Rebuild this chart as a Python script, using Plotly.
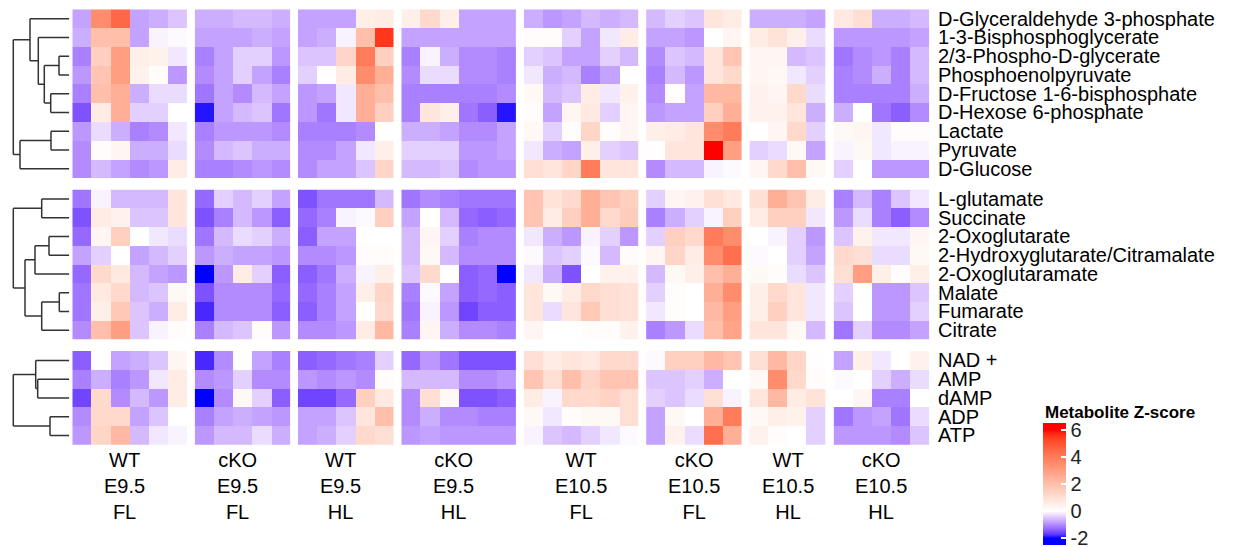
import plotly.graph_objects as go

W, H = 1260, 547

# ---------------- data ----------------
group_genotype = ["WT", "cKO", "WT", "cKO", "WT", "cKO", "WT", "cKO"]
group_stage = ["E9.5", "E9.5", "E9.5", "E9.5", "E10.5", "E10.5", "E10.5", "E10.5"]
group_limb = ["FL", "FL", "HL", "HL", "FL", "FL", "HL", "HL"]
group_ncols = [6, 5, 5, 6, 6, 5, 4, 5]

rows_glyc = ["D-Glyceraldehyde 3-phosphate", "1-3-Bisphosphoglycerate", "2/3-Phospho-D-glycerate",
             "Phosphoenolpyruvate", "D-Fructose 1-6-bisphosphate", "D-Hexose 6-phosphate",
             "Lactate", "Pyruvate", "D-Glucose"]
vals_glyc = [
    [-0.8, 3.5, 4.5, -0.8, -0.7, -0.5,  -0.7, -0.7, -0.6, -0.6, -0.7,  -0.8, -0.8, -0.8, 0.5, 0.6,  0.5, 1.2, 0.5, -0.8, -0.8, -0.8,
     -0.7, -0.9, -0.8, -0.6, -0.7, -0.6,  -0.6, -0.4, -0.5, 0.8, 0.6,  -0.7, -0.7, -0.7, -0.8,  0.7, 1.0, -0.7, -0.7, -0.6],
    [-0.7, 2.0, 2.0, -0.8, -0.1, -0.05,  -0.8, -0.8, -0.8, -0.7, -0.8,  -0.8, -0.7, -0.1, 2.0, 5.5,  -0.8, -0.8, -0.8, -0.8, -0.8, -0.8,
     0.1, 0.1, -0.4, -0.8, -0.2, 0.6,  -0.8, -0.8, -0.9, 0.0, 0.3,  0.6, 0.9, 0.5, -0.3,  -0.9, -0.9, -0.9, -0.9, -0.8],
    [-1.1, 1.5, 3.0, 0.5, 0.4, -0.2,  -1.1, -0.8, -0.4, -0.4, -0.9,  -0.5, -0.5, 1.3, 4.0, 1.5,  -1.1, -0.1, -0.7, -1.0, -1.0, -1.1,
     -0.4, -0.5, -0.8, -0.8, -0.4, -0.6,  -1.0, -0.5, -0.6, 0.8, 1.8,  0.3, 0.3, -0.6, -0.5,  -1.2, -1.0, -0.9, -1.1, -0.6],
    [-0.9, 1.8, 3.0, 0.4, 0.1, -0.9,  -1.0, -0.8, -0.4, -0.8, -1.1,  -0.4, 0.0, 0.6, 3.5, 2.5,  -1.0, -0.3, -0.3, -1.0, -1.0, -1.1,
     -0.2, -0.7, -0.6, -1.1, -0.8, 0.0,  -1.1, -0.6, -0.9, 0.8, 1.2,  0.3, 0.2, -0.2, -0.4,  -1.1, -1.0, -0.7, -1.1, -0.6],
    [-1.1, 2.0, 2.5, -0.7, -0.3, -0.3,  -1.2, -0.8, -1.0, -0.6, -0.8,  -0.9, -0.8, -0.2, 2.5, 2.0,  -1.1, -1.1, -1.1, -1.1, -1.1, -1.0,
     0.2, -0.6, -0.5, 0.6, -0.2, 0.4,  -1.0, 0.05, -0.8, 2.2, 2.2,  0.4, 0.3, 1.2, -0.3,  -1.1, -1.1, -1.1, -1.1, -0.7],
    [-1.5, 0.6, 2.5, -0.4, -0.4, 0.0,  -1.9, -0.8, -0.6, -0.5, -1.2,  -0.9, -1.2, -0.2, 2.5, 1.5,  -1.1, 0.8, 0.5, -1.2, -1.4, -1.9,
     0.1, -0.8, 0.3, 0.7, -0.4, 0.3,  -0.9, -0.8, -0.8, 1.5, 2.5,  0.4, 0.4, 0.8, -0.7,  -0.7, 0.0, -1.2, -1.4, -1.0],
    [-0.9, -0.3, -0.7, -1.1, -1.0, -0.2,  -1.1, -0.9, -0.9, -0.9, -1.0,  -1.1, -1.1, -1.1, -1.0, 0.0,  -0.7, -0.7, -0.8, -1.0, -1.0, -0.8,
     0.2, -0.4, 0.1, 1.3, 0.1, 0.3,  0.5, 0.6, 0.8, 3.5, 4.0,  0.0, 0.3, 1.2, -0.4,  0.2, 0.3, -0.2, 0.1, 0.1],
    [-1.0, 0.1, 0.3, -0.7, -0.7, -0.3,  -1.0, -0.6, -0.5, -0.7, -0.7,  -1.0, -1.0, -0.8, -0.2, 0.5,  -0.4, -0.4, -0.4, -0.9, -0.9, -0.8,
     -0.2, -0.7, -0.8, 0.5, -0.4, -0.5,  0.05, 0.8, 0.8, 6.0, 3.0,  -0.4, -0.3, 0.2, -0.8,  -0.1, 0.2, -0.2, -0.1, -0.1],
    [-1.0, -0.6, -0.8, -1.0, -0.9, 0.6,  -1.1, -1.1, -1.0, -0.9, -1.0,  -1.0, -0.8, -0.8, -0.5, 1.3,  -0.6, -0.6, -0.5, -1.0, -0.9, -0.9,
     1.0, 0.8, 1.3, 4.0, 0.8, 0.8,  -1.0, -0.6, -0.6, -0.1, -0.05,  0.3, 1.2, 2.0, 0.2,  -0.4, 0.0, -0.9, -0.9, -0.9],
]

rows_tca = ["L-glutamate", "Succinate", "2-Oxoglutarate", "2-Hydroxyglutarate/Citramalate",
            "2-Oxoglutaramate", "Malate", "Fumarate", "Citrate"]
vals_tca = [
    [-1.2, -0.1, -0.6, -0.6, -0.6, 0.8,  -1.3, -0.4, -0.6, -0.4, -0.8,  -1.5, -1.2, -1.2, -1.2, -0.6,  -1.2, -1.0, -1.1, -1.2, -1.2, -1.2,
     1.8, 0.9, 1.2, 2.5, 1.8, 1.5,  -0.4, 0.3, 0.4, 1.0, 0.7,  1.0, 2.5, 1.8, 0.6,  -1.1, -0.6, -1.1, -0.5, -0.2],
    [-1.5, 0.6, 0.4, -0.5, -0.5, 0.8,  -1.5, -1.1, -0.6, -0.9, -1.4,  -1.3, -1.1, -0.1, -0.05, 1.5,  -0.8, 0.0, -0.6, -1.3, -1.4, -1.3,
     1.8, 0.6, 1.5, 2.5, 1.2, 1.6,  -1.1, -0.7, -0.4, -0.1, 1.5,  0.6, 1.5, 1.5, -0.2,  -0.9, -0.3, -1.1, -1.4, -1.0],
    [-1.3, 0.3, 1.5, 0.0, -0.2, -0.3,  -1.2, -0.6, -0.3, -0.4, -0.7,  -1.4, -0.8, -0.8, 0.0, 0.0,  -0.6, 0.3, -0.4, -1.1, -1.0, -1.0,
     -0.2, -0.7, -0.9, -0.1, -0.4, -0.9,  -0.4, 1.5, 1.2, 4.0, 3.5,  0.0, -0.1, -0.4, -0.9,  -0.5, 0.4, -0.2, -0.2, 0.3],
    [-0.8, -0.4, 0.0, -0.8, -0.6, -0.4,  -0.9, -0.7, -0.8, -0.8, -0.9,  -1.0, -1.0, -0.9, 0.1, 0.1,  -0.6, 0.2, -0.6, -1.0, -1.0, -1.0,
     -0.05, -0.5, -0.4, -0.05, -0.6, 0.1,  0.3, 1.3, 0.6, 3.5, 4.3,  -0.05, 0.0, -0.4, -0.8,  1.2, 1.0, -0.3, -0.3, 0.2],
    [-1.3, 1.2, 0.7, -0.6, -0.8, -0.9,  -2.0, -0.9, 0.6, -0.4, -1.4,  -1.4, -1.2, -0.7, -0.1, 0.5,  -0.5, 1.2, 0.0, -1.4, -1.3, -2.0,
     -0.2, -0.7, -1.5, 0.0, 0.4, 0.4,  -0.6, 0.2, 0.5, 2.0, 2.5,  0.2, 0.1, -0.3, -0.5,  1.0, 3.0, 0.5, 0.1, 0.5],
    [-1.2, 0.7, 1.2, -0.6, -0.5, 0.2,  -1.5, -1.0, -1.0, -1.0, -1.3,  -1.3, -1.1, -0.8, 0.5, 1.3,  -1.1, -0.05, -0.8, -1.4, -1.3, -1.4,
     0.8, 0.2, 0.6, 1.2, 1.0, 0.9,  -0.4, 0.1, 0.0, 2.5, 3.5,  0.5, 1.2, 0.8, -0.2,  -0.4, 0.0, -0.9, -0.9, -0.5],
    [-1.2, 0.5, 1.7, -0.5, -0.7, 0.6,  -1.8, -1.0, -1.0, -1.0, -1.4,  -1.4, -1.1, -0.8, 0.0, 1.2,  -1.2, -0.1, -0.9, -1.6, -1.4, -1.4,
     0.8, -0.3, 0.8, 1.7, 1.0, 0.9,  -0.2, 0.1, 0.0, 2.2, 3.0,  0.5, 1.5, 0.8, -0.2,  -0.5, 0.0, -0.9, -0.9, -0.4],
    [-1.0, 2.0, 3.0, -0.5, -0.1, 0.1,  -1.1, -0.6, -0.5, 0.1, -0.9,  -1.0, -1.0, -0.9, 0.6, 2.2,  -1.1, 0.3, -0.7, -1.0, -1.0, -1.1,
     0.3, 0.0, 0.0, 0.1, 0.1, 0.4,  -1.1, -0.9, -0.3, 2.0, 2.8,  0.8, 0.8, 0.2, -0.6,  -1.2, -0.4, -1.0, -1.0, -0.8],
]

rows_nuc = ["NAD +", "AMP", "dAMP", "ADP", "ATP"]
vals_nuc = [
    [-1.4, 0.0, -0.8, -0.7, -0.5, 0.3,  -1.8, -1.0, 0.0, -0.8, -1.1,  -1.4, -1.3, -1.2, -1.1, -0.4,  -1.3, -0.9, -1.2, -1.5, -1.5, -1.5,
     1.0, 0.6, 0.8, 0.7, 1.2, 1.2,  -0.05, 1.5, 1.5, 2.2, 1.8,  1.0, 2.2, 1.3, 0.05,  -0.8, 0.5, -0.2, 0.0, 0.4],
    [-1.1, -0.7, -1.1, -0.9, -0.2, 0.6,  -1.0, -0.9, -0.4, -1.0, -1.0,  -0.9, -1.0, -0.9, -1.0, 0.1,  -0.6, -0.6, -0.6, -1.0, -1.0, -0.9,
     1.8, 1.0, 2.0, 1.3, 1.8, 1.8,  -0.5, -0.5, -0.4, -0.7, 0.0,  0.2, 3.5, 1.2, 0.1,  -0.05, 0.0, -0.4, -0.7, -0.3],
    [-1.6, 1.2, -1.0, -0.6, -0.9, 0.6,  -2.0, -1.0, 0.2, -0.4, -1.4,  -1.6, -1.6, -1.3, 1.5, 0.7,  -1.0, 1.0, 0.2, -1.5, -1.5, -1.4,
     0.6, -0.1, 1.2, 1.2, 1.4, 1.0,  -0.4, -0.5, -0.3, 1.0, -0.1,  0.8, 2.2, 0.6, 0.9,  0.0, 0.3, -1.1, -1.1, 0.0],
    [-1.0, 1.2, 1.2, -0.8, -0.5, 0.0,  -1.1, -0.8, -0.7, -0.8, -0.9,  -0.8, -0.8, -0.5, 0.8, 2.0,  -1.0, -0.7, -1.0, -1.0, -1.1, -1.1,
     0.2, -0.2, 0.1, 0.2, 0.2, 1.0,  -0.8, 0.2, 0.0, 2.5, 4.0,  0.2, 0.5, 0.4, -0.4,  -1.2, -0.9, -0.8, -1.2, -0.3],
    [-0.9, 1.3, 2.2, -0.6, -0.2, -0.1,  -0.9, -0.6, -0.6, -0.3, -0.7,  -0.8, -0.7, -0.4, 1.2, 1.0,  -0.9, -0.8, -0.9, -0.9, -0.9, -0.9,
     -0.1, -0.5, -0.6, -0.4, -0.2, -0.05,  -0.8, 0.4, -0.3, 4.3, 2.5,  0.4, 0.1, 0.0, -0.4,  -0.9, -0.9, -0.9, -1.0, -0.5],
]

# dendrogram merges: (child_a, child_b, height); leaves are 0..n-1, merge i gets id n+i
dendro_glyc = [(2, 3, 10.3), (4, 5, 18.6), (9, 10, 25.0), (1, 11, 31.0), (0, 12, 39.3),
               (6, 7, 18.3), (14, 8, 49.3), (13, 15, 56.0)]
dendro_tca = [(0, 1, 27.6), (2, 3, 20.3), (9, 4, 34.3), (5, 6, 10.0), (11, 7, 27.6),
              (10, 12, 44.3), (8, 13, 56.0)]
dendro_nuc = [(1, 2, 31.6), (0, 5, 33.6), (3, 4, 19.3), (6, 7, 56.0)]

# ---------------- colour scale (LAB interpolation blue-white-red) ----------------
def _lin(c):
    c = c / 255.0
    return c / 12.92 if c <= 0.04045 else ((c + 0.055) / 1.055) ** 2.4

def _unlin(c):
    c = 12.92 * c if c <= 0.0031308 else 1.055 * c ** (1 / 2.4) - 0.055
    return max(0, min(255, round(c * 255)))

WX, WY, WZ = 0.95047, 1.0, 1.08883

def rgb2lab(rgb):
    r, g, b = (_lin(v) for v in rgb)
    x = 0.4124564 * r + 0.3575761 * g + 0.1804375 * b
    y = 0.2126729 * r + 0.7151522 * g + 0.0721750 * b
    z = 0.0193339 * r + 0.1191920 * g + 0.9503041 * b
    def f(t):
        return t ** (1 / 3) if t > 216 / 24389 else (24389 / 27 * t + 16) / 116
    fx, fy, fz = f(x / WX), f(y / WY), f(z / WZ)
    return (116 * fy - 16, 500 * (fx - fy), 200 * (fy - fz))

def lab2rgb(lab):
    L, a, b = lab
    fy = (L + 16) / 116
    fx = fy + a / 500
    fz = fy - b / 200
    def finv(t):
        return t ** 3 if t ** 3 > 216 / 24389 else (116 * t - 16) / (24389 / 27)
    x, y, z = finv(fx) * WX, finv(fy) * WY, finv(fz) * WZ
    r = 3.2404542 * x - 1.5371385 * y - 0.4985314 * z
    g = -0.9692660 * x + 1.8760108 * y + 0.0415560 * z
    bb = 0.0556434 * x - 0.2040259 * y + 1.0572252 * z
    return tuple(_unlin(max(0.0, v)) for v in (r, g, bb))

break_vals = [-2, 0, 6]
break_cols = [(0, 0, 255), (255, 255, 255), (255, 0, 0)]
zlo, zhi = -2.5, 6.5

def col_at(v):
    for i in range(len(break_vals) - 1):
        if break_vals[i] <= v <= break_vals[i + 1]:
            t = (v - break_vals[i]) / (break_vals[i + 1] - break_vals[i])
            l1, l2 = rgb2lab(break_cols[i]), rgb2lab(break_cols[i + 1])
            return lab2rgb(tuple(l1[k] + t * (l2[k] - l1[k]) for k in range(3)))
    return break_cols[0] if v < break_vals[0] else break_cols[-1]

colorscale = [[0.0, "rgb(0,0,255)"]]
v = -2.0
while v <= 6.0001:
    c = col_at(v)
    colorscale.append([(v - zlo) / (zhi - zlo), "rgb(%d,%d,%d)" % c])
    v += 0.25
colorscale.append([1.0, "rgb(255,0,0)"])

# ---------------- layout geometry (pixels) ----------------
x_start, col_w, col_gap = 72.3, 19.1, 7.8
row_h = 18.75
block_tops = [9.3, 189.5, 351.0]
dendro_px = 69.3
FONT = "Liberation Sans, Arial, sans-serif"

blocks = [(rows_glyc, vals_glyc, dendro_glyc),
          (rows_tca, vals_tca, dendro_tca),
          (rows_nuc, vals_nuc, dendro_nuc)]

fig = go.Figure()
layout_axes = {}
group_spans = []
x = x_start
for g, n in enumerate(group_ncols):
    x0, x1 = x, x + n * col_w
    group_spans.append((x0, x1))
    x = x1 + col_gap
    key = "xaxis" if g == 0 else "xaxis%d" % (g + 1)
    layout_axes[key] = dict(domain=[x0 / W, x1 / W], range=[-0.5, n - 0.5], visible=False,
                            fixedrange=True)

for b, (rows, vals, _) in enumerate(blocks):
    y0 = block_tops[b]
    y1 = y0 + len(rows) * row_h
    key = "yaxis" if b == 0 else "yaxis%d" % (b + 1)
    layout_axes[key] = dict(domain=[1 - y1 / H, 1 - y0 / H], range=[len(rows) - 0.5, -0.5],
                            visible=False, fixedrange=True)

dx_key = "xaxis%d" % (len(group_ncols) + 1)
layout_axes[dx_key] = dict(domain=[0, dendro_px / W], range=[dendro_px, 0], visible=False,
                           fixedrange=True)

annotations = []
for b, (rows, vals, merges) in enumerate(blocks):
    yref = "y" if b == 0 else "y%d" % (b + 1)
    col0 = 0
    for g, n in enumerate(group_ncols):
        z = [r[col0:col0 + n] for r in vals]
        col0 += n
        xref = "x" if g == 0 else "x%d" % (g + 1)
        fig.add_trace(go.Heatmap(z=z, x=list(range(n)), y=list(range(len(rows))),
                                 coloraxis="coloraxis", xaxis=xref, yaxis=yref,
                                 hoverinfo="skip"))
    # dendrogram
    nleaf = len(rows)
    pos = {i: float(i) for i in range(nleaf)}
    hgt = {i: 0.0 for i in range(nleaf)}
    xs, ys = [], []
    for m, (a, c, h) in enumerate(merges):
        nid = nleaf + m
        for ch in (a, c):
            xs += [hgt[ch], h, None]
            ys += [pos[ch], pos[ch], None]
        xs += [h, h, None]
        ys += [pos[a], pos[c], None]
        pos[nid] = (pos[a] + pos[c]) / 2
        hgt[nid] = h
    fig.add_trace(go.Scatter(x=xs, y=ys, mode="lines", xaxis="x%d" % (len(group_ncols) + 1),
                             yaxis=yref, line=dict(color="#333333", width=1.5),
                             hoverinfo="skip", showlegend=False))
    for i, name in enumerate(rows):
        annotations.append(dict(text=name, x=936 / W, xref="paper", xanchor="left",
                                y=i, yref=yref, yanchor="middle", showarrow=False,
                                font=dict(family=FONT, size=20, color="black")))

for g in range(len(group_ncols)):
    x0, x1 = group_spans[g]
    shift = -5 if group_stage[g] == "E9.5" else 0
    annotations.append(dict(text="%s<br>%s<br>%s" % (group_genotype[g], group_stage[g], group_limb[g]),
                            x=(x0 + x1) / 2 / W, xref="paper", xanchor="center", xshift=shift,
                            y=1 - 486 / H, yref="paper", yanchor="middle", showarrow=False,
                            align="center",
                            font=dict(family=FONT, size=20, color="black")))

annotations.append(dict(text="<b>Metabolite Z-score</b>", x=1043 / W, xref="paper", xanchor="left",
                        y=1 - 412 / H, yref="paper", yanchor="middle", showarrow=False,
                        font=dict(family=FONT, size=17, color="black")))

fig.update_layout(
    width=W, height=H,
    margin=dict(l=0, r=0, t=0, b=0, autoexpand=False),
    paper_bgcolor="white", plot_bgcolor="white",
    showlegend=False,
    font=dict(family=FONT, color="black"),
    coloraxis=dict(
        colorscale=colorscale, cmin=zlo, cmax=zhi,
        colorbar=dict(
            x=1043 / W, xanchor="left", xpad=0, ypad=0,
            y=1 - 423 / H, yanchor="top", len=122 / H, lenmode="fraction",
            thickness=23, thicknessmode="pixels", outlinewidth=0,
            tickvals=[-2, 0, 2, 4, 6], ticktext=["-2", "0", "2", "4", "6"],
            ticks="inside", ticklen=5, tickcolor="white", tickwidth=1.5,
            ticklabeloverflow="allow",
            tickfont=dict(family=FONT, size=20, color="#222222"),
        ),
    ),
    annotations=annotations,
    **layout_axes,
)

fig.write_html("out.html", config={"displayModeBar": False},
               post_script="document.body.style.margin='0px';document.body.style.padding='0px';")
